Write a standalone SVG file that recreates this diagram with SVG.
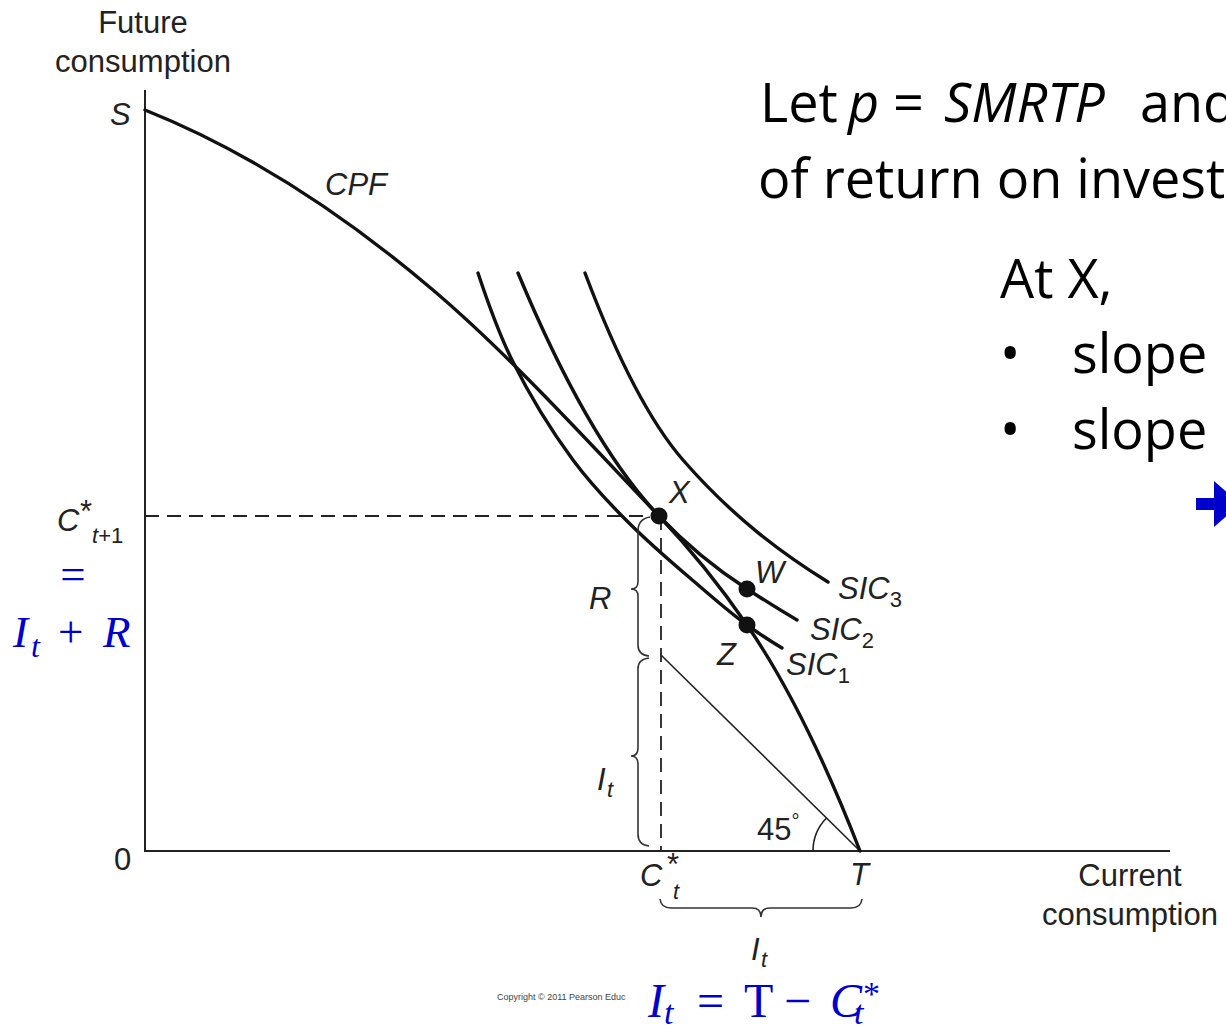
<svg xmlns="http://www.w3.org/2000/svg" width="1226" height="1027" viewBox="0 0 1226 1027">
<style>
.lab{font-family:"Liberation Sans",Arial,sans-serif;font-size:31px;fill:#222}
.it{font-style:italic}
.sub{font-size:22px}
.curve{fill:none;stroke:#111;stroke-width:3.4;stroke-linecap:round}
.axis{fill:none;stroke:#222;stroke-width:2}
.dash{fill:none;stroke:#222;stroke-width:1.8;stroke-dasharray:14 8}
.thin{fill:none;stroke:#222;stroke-width:1.6}
.brace{fill:none;stroke:#333;stroke-width:1.6}
.dot{fill:#111}
.math{font-family:"Liberation Serif","Times New Roman",serif;fill:#0000cc}
.body{font-family:"Open Sans","Noto Sans",sans-serif;font-size:54px;fill:#000}
</style>
<rect width="1226" height="1027" fill="#fff"/>

<g id="axes">
<path class="axis" d="M145 90 V851 H1170"/>
</g>

<g id="guides">
<path class="dash" d="M145 516 H659"/>
<path class="dash" d="M661 516 V851"/>
<path class="thin" d="M661 655 L860 851"/>
<path class="thin" d="M813 851 A47 47 0 0 1 826.8 817.8"/>
</g>

<g id="curves">
<path id="cpf" class="curve" d="M145 110 C241 148.4 337 208.4 433 290 C508.3 354 583.7 436.9 659 516 C688.3 546.8 717.7 582.5 747 625 C784.7 679.7 822.3 754 860 851"/>
<path id="sic1" class="curve" d="M478 273 C489.3 307 500.7 337.3 512 360 C532.3 400.7 552.7 432.6 573 460 C591 484.3 609 503 627 521 C648 542 669 560.2 690 578 C709 594.2 728 611.3 747 625 C758.7 633.4 770.3 641 782 648"/>
<path id="sic2" class="curve" d="M518 273 C565 385.8 612 466.6 659 516 C688.3 546.8 717.7 570 747 589 C763.7 599.8 780.3 610.3 797 620"/>
<path id="sic3" class="curve" d="M585 273 C617.7 359.6 650.3 422.4 683 460 C731.3 515.5 779.7 552 828 582"/>
</g>

<g id="points">
<circle class="dot" cx="659" cy="516" r="8.5"/>
<circle class="dot" cx="747" cy="589" r="8.5"/>
<circle class="dot" cx="747" cy="625" r="8.5"/>
</g>

<g id="braces">
<path class="brace" d="M650 517 Q638 519 638 531 V582 Q638 589 631 589 Q638 589 638 596 V645 Q638 655 649 656"/>
<path class="brace" d="M649 658 Q638 659 638 669 V748 Q638 756 631 756 Q638 756 638 764 V834 Q638 845 649 846"/>
<path class="brace" d="M660 899 Q661 908 671 908 H752 Q761 908 761 917 Q761 908 770 908 H851 Q861 908 862 899"/>
</g>

<g id="graph-labels">
<text class="lab" x="143" y="33" text-anchor="middle">Future</text>
<text class="lab" x="143" y="72" text-anchor="middle">consumption</text>
<text class="lab it" x="110" y="125">S</text>
<text class="lab it" x="325" y="195">CPF</text>
<text class="lab it" x="669" y="503">X</text>
<text class="lab it" x="755" y="583">W</text>
<text class="lab it" x="717" y="665">Z</text>
<text class="lab it" x="838" y="599">SIC<tspan class="sub" font-style="normal" dy="8">3</tspan></text>
<text class="lab it" x="810" y="640">SIC<tspan class="sub" font-style="normal" dy="8">2</tspan></text>
<text class="lab it" x="786" y="675">SIC<tspan class="sub" font-style="normal" dy="8">1</tspan></text>
<text class="lab it" x="589" y="609">R</text>
<text class="lab it" x="597" y="790">I</text>
<text class="lab it sub" x="607" y="797">t</text>
<text class="lab" x="757" y="840">45<tspan font-size="20" dy="-12">°</tspan></text>
<text class="lab" x="114" y="870">0</text>
<text class="lab it" x="640" y="886" font-size="33">C</text>
<text class="lab" x="667" y="875" font-size="20">*</text>
<text class="lab it sub" x="673" y="899">t</text>
<text class="lab it" x="850" y="885">T</text>
<text class="lab it" x="751" y="960">I</text>
<text class="lab it sub" x="761" y="967">t</text>
<text class="lab" x="1130" y="886" text-anchor="middle">Current</text>
<text class="lab" x="1130" y="925" text-anchor="middle">consumption</text>
<text class="lab it" x="57" y="531" font-size="29">C</text>
<text class="lab" x="80" y="522" font-size="20">*</text>
<text class="lab sub" x="92" y="543"><tspan font-style="italic">t</tspan>+1</text>
<text x="497" y="1000" font-family="Liberation Sans, Arial, sans-serif" font-size="9" fill="#444">Copyright © 2011 Pearson Educ</text>
</g>

<g id="math">
<text class="math" x="73" y="589" font-size="45" text-anchor="middle">=</text>
<text class="math" font-style="italic" x="13" y="647" font-size="45">I</text>
<text class="math" font-style="italic" x="31" y="657" font-size="32">t</text>
<text class="math" x="58" y="647" font-size="45">+</text>
<text class="math" font-style="italic" x="103" y="647" font-size="45">R</text>
<text class="math" font-style="italic" x="648" y="1017" font-size="48">I</text>
<text class="math" font-style="italic" x="664" y="1024" font-size="34">t</text>
<text class="math" x="697" y="1017" font-size="48">=</text>
<text class="math" x="744" y="1017" font-size="48">T</text>
<text class="math" x="784" y="1017" font-size="48">−</text>
<text class="math" font-style="italic" x="830" y="1017" font-size="48">C</text>
<text class="math" x="863" y="1005" font-size="34">*</text>
<text class="math" font-style="italic" x="854" y="1024" font-size="34">t</text>
</g>

<g id="notes">
<text class="body" y="122"><tspan x="760">Let</tspan><tspan x="848" font-style="italic">p</tspan><tspan x="893">=</tspan><tspan x="944" font-style="italic">SMRTP</tspan><tspan x="1140">and</tspan></text>
<text class="body" x="758" y="198">of return on invest</text>
<text class="body" x="1000" y="298">At X,</text>
<text class="body" x="1000" y="373">•</text>
<text class="body" x="1072" y="373">slope</text>
<text class="body" x="1000" y="449">•</text>
<text class="body" x="1072" y="449">slope</text>
<path d="M1196 498 H1214 V481 L1240 504 L1214 527 V510 H1196 Z" fill="#0000cc"/>
</g>
</svg>
